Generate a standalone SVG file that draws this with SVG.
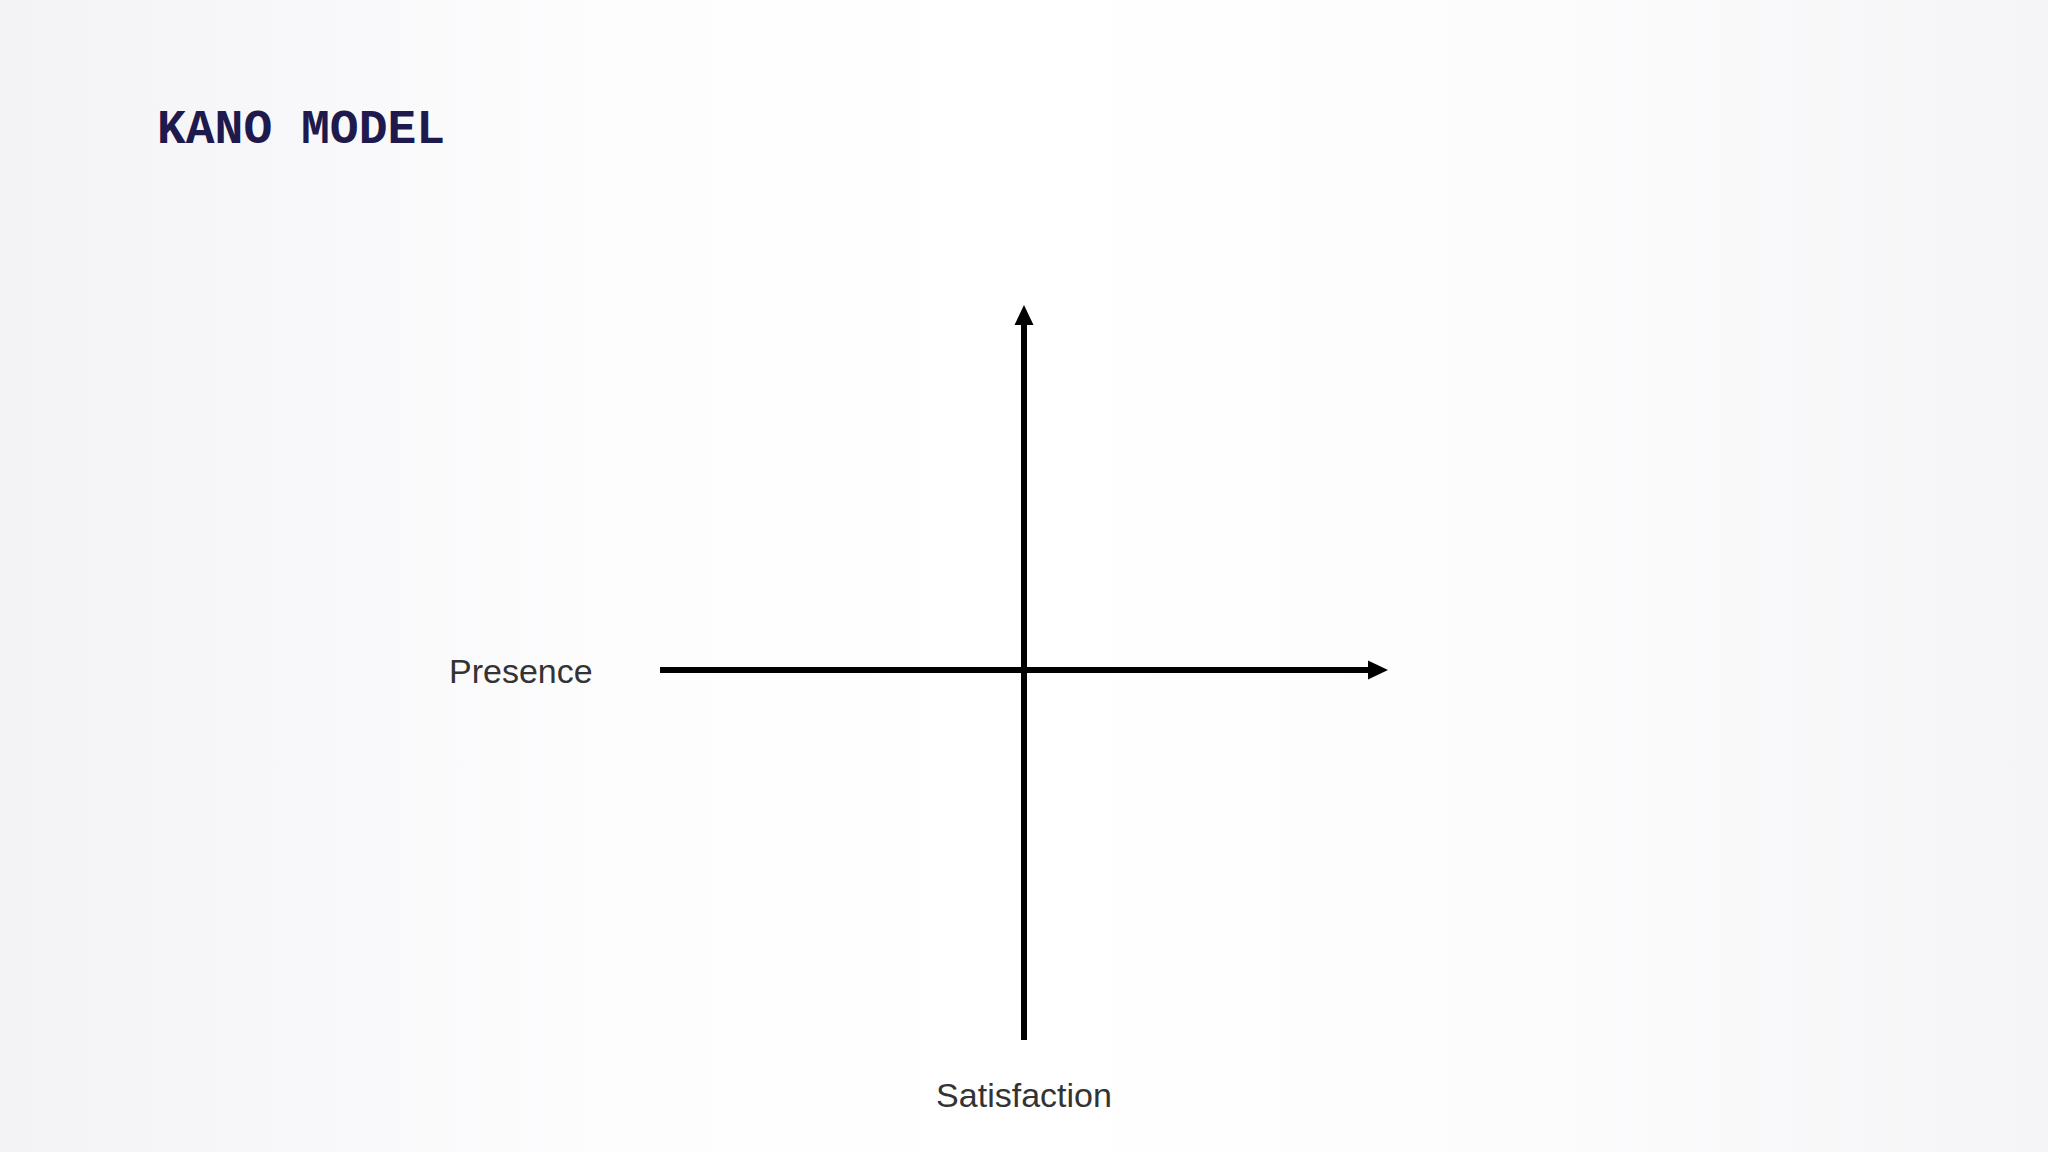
<svg xmlns="http://www.w3.org/2000/svg" width="2048" height="1152" viewBox="0 0 2048 1152">
  <defs>
    <linearGradient id="bg" x1="0" y1="0" x2="1" y2="0">
      <stop offset="0" stop-color="#f3f3f5"/>
      <stop offset="0.15" stop-color="#f8f8fa"/>
      <stop offset="0.3" stop-color="#fdfdfe"/>
      <stop offset="0.5" stop-color="#ffffff"/>
      <stop offset="0.75" stop-color="#fcfcfd"/>
      <stop offset="1" stop-color="#f5f5f7"/>
    </linearGradient>
    <marker id="arrow" markerUnits="userSpaceOnUse" markerWidth="20" markerHeight="20" refX="0" refY="9.5" orient="auto" viewBox="0 0 20 19">
      <path d="M0,0 L20,9.5 L0,19 z" fill="#000"/>
    </marker>
    <style>
      .axis { stroke: #000; stroke-width: 6; fill: none; }
      .label { font-family: "Liberation Sans", Arial, sans-serif; font-size: 34px; fill: #333333; }
      .title { font-family: "Liberation Mono", "Courier New", monospace; font-size: 48px; font-weight: bold; fill: #1e1a4d; }
    </style>
  </defs>
  <rect x="0" y="0" width="2048" height="1152" fill="url(#bg)"/>
  <g id="title">
    <text class="title" x="157" y="143">KANO MODEL</text>
  </g>
  <g id="connectors">
    <line class="axis" x1="660" y1="670" x2="1368" y2="670" marker-end="url(#arrow)"/>
    <line class="axis" x1="1024" y1="1040" x2="1024" y2="325" marker-end="url(#arrow)"/>
  </g>
  <g id="presence-label">
    <text class="label" x="449" y="683">Presence</text>
  </g>
  <g id="satisfaction-label">
    <text class="label" x="1024" y="1107" text-anchor="middle">Satisfaction</text>
  </g>
</svg>
